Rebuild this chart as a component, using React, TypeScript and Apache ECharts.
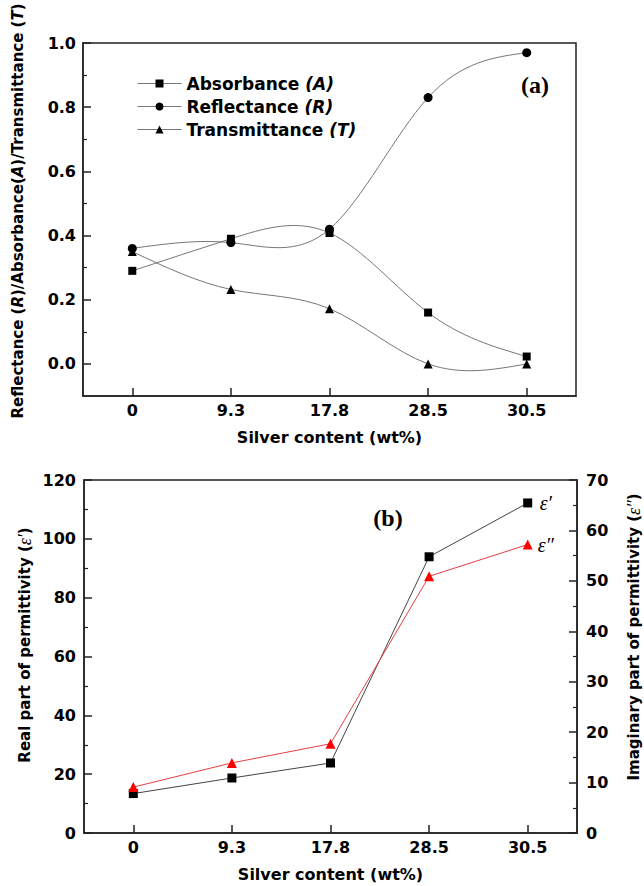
import React, { useEffect, useRef } from "react";
import * as echarts from "echarts";

const categories = ["0", "9.3", "17.8", "28.5", "30.5"];
const absorbance = [0.29, 0.39, 0.408, 0.16, 0.023];
const reflectance = [0.36, 0.378, 0.42, 0.83, 0.97];
const transmittance = [0.35, 0.232, 0.172, 0.0, 0.0];
const realPerm = [13.4, 18.7, 23.8, 93.9, 112.2];
const imagPerm = [9.1, 13.9, 17.7, 50.9, 57.2];
const topMajorTicks = [0, 0.2, 0.4, 0.6, 0.8, 1.0];
const topMinorTicks = [0.1, 0.3, 0.5, 0.7, 0.9];
const legendNames = ["Absorbance", "Reflectance", "Transmittance"];
const legendLetters = ["A", "R", "T"];

const SANS = "DejaVu Sans";
const SERIF = "Liberation Serif";
const AX = "#222";

// Natural cubic spline tangents (unit knot spacing) used to draw the smooth curve
function naturalSlopes(y: number[]): number[] {
  const n = y.length;
  const M = new Array(n).fill(0);
  if (n > 2) {
    const m = n - 2;
    const cp = new Array(m).fill(0);
    const dp = new Array(m).fill(0);
    for (let k = 0; k < m; k++) {
      const i = k + 1;
      const d = 6 * (y[i + 1] - 2 * y[i] + y[i - 1]);
      const denom = 4 - (k > 0 ? cp[k - 1] : 0);
      cp[k] = 1 / denom;
      dp[k] = (d - (k > 0 ? dp[k - 1] : 0)) / denom;
    }
    for (let k = m - 1; k >= 0; k--) {
      M[k + 1] = dp[k] - cp[k] * (k < m - 1 ? M[k + 2] : 0);
    }
  }
  const s = new Array(n).fill(0);
  for (let i = 0; i < n - 1; i++) s[i] = y[i + 1] - y[i] - (2 * M[i] + M[i + 1]) / 6;
  s[n - 1] = y[n - 1] - y[n - 2] + (M[n - 2] + 2 * M[n - 1]) / 6;
  return s;
}

function splineSeries(y: number[]) {
  const slopes = naturalSlopes(y);
  return {
    type: "custom",
    xAxisIndex: 0,
    yAxisIndex: 0,
    z: 1,
    silent: true,
    data: y.map((v, i) => [i, v]),
    encode: { x: 0, y: 1 },
    renderItem: (params: any, api: any) => {
      const i = params.dataIndex;
      if (i >= y.length - 1) return { type: "group", children: [] };
      const p0 = api.coord([i, y[i]]);
      const p1 = api.coord([i + 1, y[i + 1]]);
      const hx = p1[0] - p0[0];
      const c1y = api.coord([i, y[i] + slopes[i] / 3])[1];
      const c2y = api.coord([i + 1, y[i + 1] - slopes[i + 1] / 3])[1];
      return {
        type: "bezierCurve",
        shape: {
          x1: p0[0], y1: p0[1],
          cpx1: p0[0] + hx / 3, cpy1: c1y,
          cpx2: p1[0] - hx / 3, cpy2: c2y,
          x2: p1[0], y2: p1[1],
        },
        style: { stroke: "#777", lineWidth: 1, fill: "none" },
      };
    },
  };
}

export default function App() {
  const ref = useRef<HTMLDivElement>(null);
  useEffect(() => {
    document.body.style.margin = "0";
    const chart = echarts.init(ref.current!, null, { renderer: "svg" });
    const labelFont = { fontFamily: SANS, fontWeight: "bold", fontSize: 16, color: "#000" };
    const axisLine = { show: true, onZero: false, lineStyle: { color: AX, width: 1.5 } };
    const nameRich = {
      b: { fontFamily: SANS, fontWeight: "bold", fontSize: 15, fill: "#000", color: "#000" },
      i: { fontFamily: SANS, fontWeight: "bold", fontStyle: "italic", fontSize: 15, fill: "#000", color: "#000" },
      e: { fontFamily: SERIF, fontStyle: "italic", fontSize: 18, fill: "#000", color: "#000" },
    };
    const topSeries = [absorbance, reflectance, transmittance].map((d, k) => ({
      name: legendNames[k],
      type: "line",
      xAxisIndex: 0,
      yAxisIndex: 0,
      z: 3,
      data: d,
      symbol: ["rect", "circle", "triangle"][k],
      symbolSize: [8, 9, 9][k],
      itemStyle: { color: "#000" },
      lineStyle: { color: "#777", width: 1, opacity: 0 },
    }));
    const nameText = (x: number, y: number, text: string) => ({
      type: "text",
      x,
      y,
      rotation: Math.PI / 2,
      style: { text, rich: nameRich, textAlign: "center", textVerticalAlign: "middle", fill: "#000" },
    });
    chart.setOption({
      animation: false,
      grid: [
        { left: 83, top: 43, width: 493, height: 353, show: true, borderColor: AX, borderWidth: 1.5, containLabel: false },
        { left: 84, top: 480, width: 493, height: 353, show: true, borderColor: AX, borderWidth: 1.5, containLabel: false },
      ],
      legend: {
        data: legendNames,
        orient: "vertical",
        left: 132,
        top: 70,
        itemWidth: 44,
        itemHeight: 10,
        itemGap: 6,
        lineStyle: { color: "#777", width: 1, opacity: 1 },
        formatter: (name: string) => {
          const k = legendNames.indexOf(name);
          return `{n|${name} }{i|(${legendLetters[k]})}`;
        },
        textStyle: {
          rich: {
            n: { fontFamily: SANS, fontWeight: "bold", fontSize: 17, color: "#000" },
            i: { fontFamily: SANS, fontWeight: "bold", fontStyle: "italic", fontSize: 17, color: "#000" },
          },
        },
      },
      xAxis: [0, 1].map((g) => ({
        type: "category",
        gridIndex: g,
        data: categories,
        boundaryGap: true,
        axisLine,
        axisTick: { show: true, inside: true, alignWithLabel: true, length: 8, lineStyle: { color: AX, width: 1.5 } },
        axisLabel: { ...labelFont, margin: 6 },
        name: "Silver content (wt%)",
        nameLocation: "middle",
        nameGap: 33,
        nameTextStyle: { ...labelFont },
        splitLine: { show: false },
      })),
      yAxis: [
        {
          type: "value",
          gridIndex: 0,
          position: "left",
          min: -0.1,
          max: 1.0,
          axisLine,
          axisTick: { show: true, inside: true, length: 8, customValues: topMajorTicks, lineStyle: { color: AX, width: 1.5 } },
          axisLabel: { ...labelFont, margin: 7, customValues: topMajorTicks, formatter: (v: number) => v.toFixed(1) },
          splitLine: { show: false },
        },
        {
          type: "value",
          gridIndex: 0,
          position: "left",
          min: -0.1,
          max: 1.0,
          axisLine: { show: false },
          axisTick: { show: true, inside: true, length: 4, customValues: topMinorTicks, lineStyle: { color: AX, width: 1.2 } },
          axisLabel: { show: false },
          splitLine: { show: false },
        },
        {
          type: "value",
          gridIndex: 1,
          position: "left",
          min: 0,
          max: 120,
          interval: 20,
          axisLine,
          axisTick: { show: true, inside: true, length: 8, lineStyle: { color: AX, width: 1.5 } },
          minorTick: { show: true, splitNumber: 2, length: 4, lineStyle: { color: AX, width: 1.2 } },
          axisLabel: { ...labelFont, margin: 8 },
          splitLine: { show: false },
        },
        {
          type: "value",
          gridIndex: 1,
          position: "right",
          min: 0,
          max: 70,
          interval: 10,
          axisLine,
          axisTick: { show: true, inside: true, length: 8, lineStyle: { color: AX, width: 1.5 } },
          minorTick: { show: true, splitNumber: 2, length: 4, lineStyle: { color: AX, width: 1.2 } },
          axisLabel: { ...labelFont, margin: 9 },
          splitLine: { show: false },
        },
      ],
      graphic: [
        nameText(17.5, 211, "{b|Reflectance (}{i|R}{b|)/Absorbance(}{i|A}{b|)/Transmittance (}{i|T}{b|)}"),
        nameText(24.5, 645, "{b|Real part of permittivity (}{e|ε′}{b|)}"),
        nameText(634, 637, "{b|Imaginary part of permittivity (}{e|ε″}{b|)}"),
        {
          type: "text",
          x: 535,
          y: 85,
          style: { text: "(a)", fontFamily: SERIF, fontWeight: "bold", fontSize: 24, fill: "#000", textAlign: "center", textVerticalAlign: "middle" },
        },
        {
          type: "text",
          x: 388,
          y: 518,
          style: { text: "(b)", fontFamily: SERIF, fontWeight: "bold", fontSize: 24, fill: "#000", textAlign: "center", textVerticalAlign: "middle" },
        },
      ],
      series: [
        splineSeries(absorbance),
        splineSeries(reflectance),
        splineSeries(transmittance),
        ...topSeries,
        {
          name: "ε′",
          type: "line",
          xAxisIndex: 1,
          yAxisIndex: 2,
          data: realPerm,
          symbol: "rect",
          symbolSize: 9,
          itemStyle: { color: "#000" },
          lineStyle: { color: "#444", width: 1 },
          endLabel: { show: true, formatter: "ε′", distance: 12, fontFamily: SERIF, fontStyle: "italic", fontSize: 20, color: "#000" },
        },
        {
          name: "ε″",
          type: "line",
          xAxisIndex: 1,
          yAxisIndex: 3,
          data: imagPerm,
          symbol: "triangle",
          symbolSize: 10,
          itemStyle: { color: "#ff0000" },
          lineStyle: { color: "#e84040", width: 1 },
          endLabel: { show: true, formatter: "ε″", distance: 10, fontFamily: SERIF, fontStyle: "italic", fontSize: 20, color: "#000" },
        },
      ],
    });
    return () => chart.dispose();
  }, []);
  return <div ref={ref} style={{ width: 644, height: 886 }} />;
}
